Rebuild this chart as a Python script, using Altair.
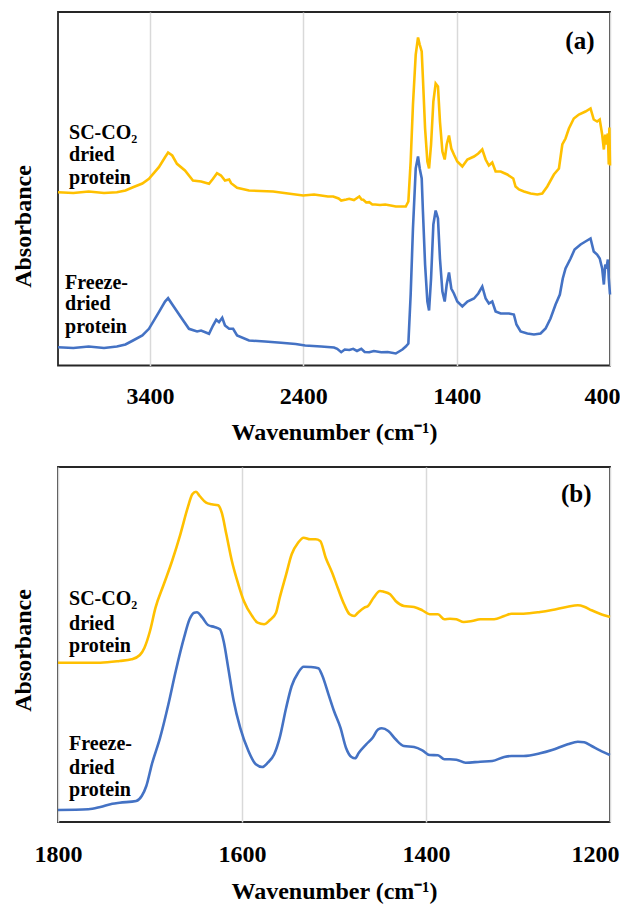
import altair as alt
import pandas as pd

FONT = "Liberation Serif"
series_names = ["SC-CO2 dried protein", "Freeze-dried protein"]
series_colors = ["#FFC000", "#4472C4"]

# ---------------- Panel (a): full spectrum ----------------
a_sc_wn = [4000, 3900, 3800, 3700, 3616, 3560, 3511, 3450, 3407, 3342, 3302, 3282, 3255, 3224,
           3172, 3120, 3067, 3015, 2989, 2963, 2937, 2911, 2884, 2871, 2832, 2754, 2680, 2597,
           2500, 2401, 2330, 2284, 2240, 2205, 2170, 2153, 2120, 2101, 2070, 2035, 2020, 2009,
           1990, 1970, 1950, 1931, 1900, 1866, 1830, 1797, 1732, 1715, 1700, 1685, 1667, 1652,
           1641, 1628, 1620, 1606, 1591, 1580, 1567, 1552, 1537, 1522, 1509, 1493, 1478, 1465,
           1450, 1435, 1418, 1396, 1363, 1330, 1287, 1259, 1233, 1211, 1190, 1168, 1146, 1113,
           1070, 1031, 1016, 994, 961, 918, 874, 842, 809, 766, 733, 711, 690, 668, 636, 603,
           560, 527, 506, 484, 467, 451, 440, 431, 423, 414, 408, 404, 400]
a_sc_abs = [173.3, 172.5, 174.0, 172.5, 173.3, 175.0, 178.3, 182.0, 186.7, 198.3, 208.3, 213.0,
            210.0, 201.7, 195.0, 185.0, 184.0, 181.7, 186.7, 192.3, 190.0, 185.0, 186.0, 182.3,
            177.7, 175.0, 174.5, 174.0, 172.0, 170.0, 171.0, 170.0, 169.0, 169.0, 167.0, 165.0,
            166.0, 166.7, 165.5, 169.0, 166.0, 165.7, 163.0, 163.3, 161.0, 161.0, 160.5, 161.0,
            160.0, 159.0, 159.0, 164.0, 204.0, 261.0, 311.0, 328.0, 321.0, 314.0, 287.0, 237.0,
            204.0, 197.0, 221.0, 264.0, 282.0, 279.0, 244.0, 214.0, 206.0, 221.0, 230.0, 217.0,
            211.0, 204.0, 199.0, 206.0, 209.0, 212.0, 216.0, 206.0, 200.0, 203.0, 194.0, 194.0,
            191.0, 187.0, 179.0, 176.0, 174.0, 172.0, 171.0, 172.0, 179.0, 191.0, 197.0, 221.0,
            227.0, 237.0, 247.0, 251.0, 254.0, 257.0, 246.0, 244.0, 246.0, 231.0, 216.0, 231.0,
            221.0, 232.0, 201.0, 238.0, 200.0]

a_fd_wn = [4000, 3900, 3800, 3700, 3616, 3560, 3511, 3450, 3407, 3342, 3302, 3282, 3250, 3198,
           3146, 3093, 3067, 3015, 2989, 2968, 2950, 2929, 2911, 2884, 2858, 2832, 2754, 2650,
           2545, 2450, 2388, 2284, 2200, 2179, 2153, 2130, 2100, 2075, 2050, 2022, 2000, 1970,
           1940, 1892, 1850, 1797, 1754, 1732, 1715, 1700, 1685, 1667, 1652, 1641, 1628, 1620,
           1606, 1591, 1580, 1567, 1552, 1537, 1522, 1509, 1493, 1478, 1465, 1450, 1435, 1418,
           1396, 1363, 1330, 1287, 1259, 1233, 1211, 1190, 1168, 1146, 1113, 1059, 1027, 1010,
           983, 939, 896, 853, 820, 788, 755, 727, 708, 690, 657, 631, 592, 560, 527, 506, 484,
           467, 451, 440, 431, 423, 414, 408, 400]
a_fd_abs = [18.3, 17.5, 19.0, 17.5, 19.0, 21.0, 25.0, 30.0, 36.7, 53.3, 64.0, 67.3, 60.0, 48.3,
            36.7, 34.0, 35.0, 31.7, 40.0, 45.7, 43.3, 47.7, 40.0, 36.7, 36.7, 30.0, 25.0, 24.0,
            22.7, 21.5, 20.0, 19.0, 18.0, 16.7, 13.3, 16.0, 15.5, 16.7, 14.5, 16.7, 13.5, 13.3,
            14.5, 13.3, 13.5, 12.0, 16.0, 19.0, 22.0, 71.0, 137.0, 197.0, 209.0, 197.0, 187.0,
            154.0, 101.0, 64.0, 55.0, 87.0, 141.0, 155.0, 147.0, 107.0, 74.0, 64.0, 81.0, 93.0,
            77.0, 72.0, 64.0, 59.0, 64.0, 67.0, 72.0, 79.0, 67.0, 62.0, 64.0, 54.0, 52.0, 52.0,
            51.0, 41.0, 34.0, 32.0, 31.0, 32.0, 37.0, 47.0, 61.0, 71.0, 87.0, 97.0, 107.0, 116.0,
            121.0, 124.0, 127.0, 114.0, 111.0, 107.0, 97.0, 81.0, 101.0, 97.0, 106.0, 87.0, 71.0]

# ---------------- Panel (b): amide region ----------------
b_sc_wn = [1800, 1754, 1733, 1720, 1711, 1706, 1700, 1694, 1685, 1676, 1667, 1659, 1654, 1650,
           1646, 1639, 1633, 1626, 1622, 1617, 1611, 1604, 1598, 1589, 1583, 1576, 1570, 1563,
           1559, 1552, 1546, 1539, 1533, 1526, 1520, 1515, 1509, 1502, 1496, 1489, 1483, 1478,
           1474, 1467, 1463, 1457, 1450, 1446, 1439, 1433, 1424, 1413, 1404, 1396, 1387, 1380,
           1374, 1367, 1359, 1350, 1341, 1326, 1315, 1307, 1294, 1276, 1263, 1246, 1235, 1228,
           1220, 1211, 1200]
b_sc_abs = [159.3, 159.3, 161.0, 162.7, 167.0, 174.3, 191.0, 214.3, 237.7, 261.0, 287.7, 314.3,
            327.7, 330.3, 326.0, 319.3, 317.7, 316.7, 309.3, 287.7, 261.0, 237.7, 221.0, 206.0,
            199.3, 197.7, 201.7, 209.3, 224.3, 247.7, 267.7, 279.3, 284.3, 282.7, 282.7, 281.0,
            264.3, 249.3, 234.3, 217.7, 207.7, 206.0, 209.3, 214.3, 216.0, 224.3, 231.0, 230.3,
            227.7, 221.0, 216.0, 215.0, 211.7, 207.7, 207.7, 202.7, 203.3, 202.7, 200.0, 201.0,
            202.7, 202.7, 206.0, 208.3, 208.3, 210.0, 212.0, 215.3, 216.7, 215.3, 211.7, 208.3,
            205.0]

b_fd_wn = [1800, 1767, 1754, 1741, 1733, 1715, 1709, 1704, 1698, 1689, 1680, 1672, 1663, 1657,
           1652, 1649, 1643, 1637, 1630, 1624, 1620, 1615, 1609, 1602, 1593, 1585, 1578, 1572,
           1565, 1559, 1552, 1546, 1539, 1533, 1526, 1517, 1513, 1506, 1500, 1493, 1487, 1481,
           1477, 1473, 1465, 1458, 1452, 1448, 1441, 1433, 1424, 1413, 1404, 1396, 1387, 1380,
           1374, 1367, 1357, 1341, 1328, 1315, 1307, 1294, 1276, 1263, 1246, 1235, 1228, 1220,
           1211, 1200]
b_fd_abs = [12.0, 12.7, 15.0, 18.3, 19.3, 21.0, 26.0, 36.0, 57.7, 84.3, 117.7, 151.0, 184.3,
            202.7, 209.3, 209.7, 204.3, 197.0, 195.0, 192.7, 181.0, 154.3, 121.0, 94.3, 71.0,
            57.7, 55.0, 59.3, 67.7, 84.3, 114.3, 136.0, 149.3, 155.3, 155.0, 153.7, 147.0, 127.7,
            111.0, 94.3, 74.3, 65.0, 63.7, 69.3, 77.7, 84.3, 92.7, 93.7, 91.0, 82.7, 76.0, 75.0,
            71.7, 67.0, 66.7, 62.7, 62.7, 62.3, 59.3, 60.3, 61.0, 65.0, 66.0, 66.0, 68.7, 72.0,
            77.7, 80.3, 79.7, 76.0, 71.7, 67.0]

label_lines = ["SC-CO\u2082", "dried", "protein", "Freeze-", "dried", "protein"]


def spectra(wn_sc, abs_sc, wn_fd, abs_fd):
    return pd.concat([
        pd.DataFrame({"wn": wn_sc, "A": abs_sc, "s": series_names[0]}),
        pd.DataFrame({"wn": wn_fd, "A": abs_fd, "s": series_names[1]}),
    ], ignore_index=True)


def panel(df, lab_x, lab_y, tag, tag_x, tag_y, xdom, xvals, ydom, h, interp,
          lab_pad, title_pad, ytitle_y, edge_value, edge_shift):
    x = alt.X("wn:Q",
              scale=alt.Scale(domain=xdom, reverse=True, nice=False, zero=False),
              axis=alt.Axis(values=xvals, format="d", title="Wavenumber (cm\u207b\u00b9)",
                            grid=True, gridColor="#d9d9d9", gridWidth=1.5,
                            ticks=False, tickSize=0, domain=False,
                            labelFont=FONT, labelFontSize=24, labelFontWeight="bold",
                            labelColor="black", labelPadding=lab_pad, labelFlush=False,
                            labelOverlap=False,
                            labelOffset={"condition": {"test": f"datum.value == {edge_value}",
                                                       "value": edge_shift},
                                         "value": 0},
                            titleFont=FONT, titleFontSize=24, titleFontWeight="bold",
                            titleColor="black", titlePadding=title_pad))
    y = alt.Y("A:Q",
              scale=alt.Scale(domain=ydom, nice=False, zero=False),
              axis=alt.Axis(title="Absorbance", labels=False, ticks=False, tickSize=0,
                            domain=False, grid=False,
                            titleFont=FONT, titleFontSize=24, titleFontWeight="bold",
                            titleColor="black", titlePadding=23, titleY=ytitle_y))
    lines = alt.Chart(df).mark_line(strokeWidth=2.6, interpolate=interp).encode(
        x=x, y=y,
        color=alt.Color("s:N", scale=alt.Scale(domain=series_names, range=series_colors),
                        legend=None),
    )
    ldf = pd.DataFrame({"wn": lab_x, "A": lab_y, "t": label_lines})
    texts = alt.Chart(ldf).mark_text(align="left", baseline="middle", font=FONT,
                                     fontSize=20, fontWeight="bold", color="black").encode(
        x=x, y=y, text="t:N")
    tdf = pd.DataFrame({"wn": [tag_x], "A": [tag_y], "t": [tag]})
    tagc = alt.Chart(tdf).mark_text(align="right", baseline="middle", font=FONT,
                                    fontSize=25, fontWeight="bold", color="black").encode(
        x=x, y=y, text="t:N")
    return alt.layer(lines, texts, tagc).properties(width=552, height=h)


pa = panel(spectra(a_sc_wn, a_sc_abs, a_fd_wn, a_fd_abs),
           [3928, 3928, 3928, 3954, 3954, 3954],
           [232.5, 210.5, 187.5, 82.5, 61.5, 38.5],
           "(a)", 501, 324.5, [400, 4000], [3400, 2400, 1400, 400], [0, 353.5], 353.5,
           "linear", 18.5, 12, 214, 400, -8)

pb = panel(spectra(b_sc_wn, b_sc_abs, b_fd_wn, b_fd_abs),
           [1788, 1788, 1788, 1788, 1788, 1788],
           [223, 198, 176, 78, 54, 32],
           "(b)", 1220, 328, [1200, 1800], [1800, 1600, 1400, 1200], [0, 355], 355,
           "monotone", 20, 13, 183, 1200, -15)

chart = alt.vconcat(pa, pb, spacing=21).properties(
    padding={"left": 2, "top": 3, "right": -1, "bottom": 0}
).configure_view(stroke="#262626", strokeWidth=1.8)

chart.save("out.html", embed_options={"renderer": "svg", "actions": False})
